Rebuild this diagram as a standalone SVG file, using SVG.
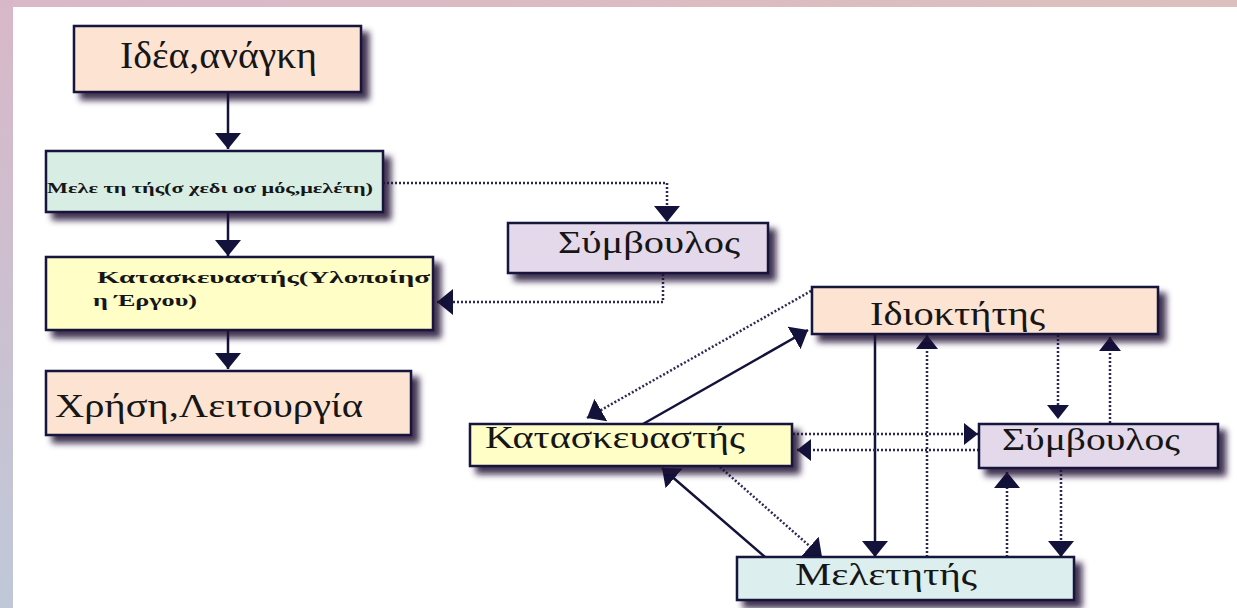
<svg xmlns="http://www.w3.org/2000/svg" width="1237" height="608" viewBox="0 0 1237 608">
<defs>
<linearGradient id="gTop" x1="0" y1="0" x2="1" y2="0"><stop offset="0" stop-color="#d9b8c8"/><stop offset="1" stop-color="#dcc0bd"/></linearGradient>
<linearGradient id="gLeft" x1="0" y1="0" x2="0" y2="1"><stop offset="0" stop-color="#d8b8c8"/><stop offset="1" stop-color="#bfc8d8"/></linearGradient>
<filter id="sh" x="-10%" y="-20%" width="130%" height="160%"><feDropShadow dx="7" dy="7" stdDeviation="3" flood-color="#1c1030" flood-opacity="0.85"/></filter>
<marker id="ah" viewBox="0 0 16 26" refX="16" refY="13" markerWidth="16" markerHeight="26" markerUnits="userSpaceOnUse" orient="auto"><path d="M0,0 L16,13 L0,26 z" fill="#12123a"/></marker>
<marker id="ahs" viewBox="0 0 14 22" refX="14" refY="11" markerWidth="14" markerHeight="22" markerUnits="userSpaceOnUse" orient="auto"><path d="M0,0 L14,11 L0,22 z" fill="#12123a"/></marker>
</defs>
<style>
.box{stroke:#14143c;stroke-width:2.5;filter:url(#sh)}
.peach{fill:#fde3d2}.mint{fill:#d8ede3}.yellow{fill:#fefec6}.lav{fill:#e3d9ea}.cyan{fill:#dcefee}
.t{font-family:"Liberation Serif","Times New Roman",serif;fill:#161616}
.b{font-weight:bold}
.solid{fill:none;stroke:#12123a;stroke-width:2.5}
.dot{fill:none;stroke:#2a2a55;stroke-width:2.5;stroke-dasharray:2 2}
</style>
<rect width="1237" height="608" fill="#ffffff"/>
<rect width="1237" height="7" fill="url(#gTop)"/>
<rect width="13" height="608" fill="url(#gLeft)"/>

<g id="connectors">
<path class="solid" d="M228,92 V149" marker-end="url(#ah)"/>
<path class="solid" d="M228,212 V256" marker-end="url(#ah)"/>
<path class="solid" d="M228,330 V369" marker-end="url(#ah)"/>
<path class="dot" d="M383,183 H667 V222" marker-end="url(#ah)"/>
<path class="dot" d="M663,274 V302 H437" marker-end="url(#ah)"/>
<path class="dot" d="M818,287 L587,418" marker-end="url(#ah)"/>
<path class="solid" d="M643,424 L808,330" marker-end="url(#ah)"/>
<path class="solid" d="M875,334 V557" marker-end="url(#ah)"/>
<path class="dot" d="M927,557 V335" marker-end="url(#ahs)"/>
<path class="dot" d="M1058,335 V419" marker-end="url(#ahs)"/>
<path class="dot" d="M1110,423 V337" marker-end="url(#ahs)"/>
<path class="dot" d="M793,434 H978" marker-end="url(#ahs)"/>
<path class="dot" d="M979,450 H797" marker-end="url(#ahs)"/>
<path class="solid" d="M765,557 L662,468" marker-end="url(#ah)"/>
<path class="dot" d="M720,467 L822,557" marker-end="url(#ah)"/>
<path class="dot" d="M1007,557 V472" marker-end="url(#ah)"/>
<path class="dot" d="M1061,470 V557" marker-end="url(#ah)"/>
</g>

<g id="n-idea">
<rect class="box peach" x="74" y="26" width="287" height="66"/>
<text class="t" x="120" y="68" font-size="38" textLength="197" lengthAdjust="spacingAndGlyphs">Ιδέα,ανάγκη</text>
</g>
<g id="n-meletitis1">
<rect class="box mint" x="46" y="151" width="337" height="61"/>
<text class="t b" x="47" y="193" font-size="15" textLength="326" lengthAdjust="spacingAndGlyphs">Μελε τη τής(σ χεδι οσ μός,μελέτη)</text>
</g>
<g id="n-kataskevastis1">
<rect class="box yellow" x="46" y="257" width="387" height="73"/>
<text class="t b" x="97" y="283" font-size="17" textLength="333" lengthAdjust="spacingAndGlyphs">Κατασκευαστής(Υλοποίησ</text>
<text class="t b" x="93" y="306" font-size="17" textLength="104" lengthAdjust="spacingAndGlyphs">η Έργου)</text>
</g>
<g id="n-xrisi">
<rect class="box peach" x="46" y="371" width="365" height="64"/>
<text class="t" x="55" y="417" font-size="34" textLength="308" lengthAdjust="spacingAndGlyphs">Χρήση,Λειτουργία</text>
</g>
<g id="n-symvoulos1">
<rect class="box lav" x="508" y="223" width="260" height="50"/>
<text class="t" x="558" y="253" font-size="32" textLength="182" lengthAdjust="spacingAndGlyphs">Σύμβουλος</text>
</g>
<g id="n-idioktitis">
<rect class="box peach" x="812" y="287" width="346" height="47"/>
<text class="t" x="870" y="325" font-size="33" textLength="175" lengthAdjust="spacingAndGlyphs">Ιδιοκτήτης</text>
</g>
<g id="n-kataskevastis2">
<rect class="box yellow" x="470" y="424" width="322" height="42"/>
<text class="t" x="485" y="448" font-size="31" textLength="260" lengthAdjust="spacingAndGlyphs">Κατασκευαστής</text>
</g>
<g id="n-symvoulos2">
<rect class="box lav" x="979" y="424" width="239" height="44"/>
<text class="t" x="1002" y="450" font-size="32" textLength="178" lengthAdjust="spacingAndGlyphs">Σύμβουλος</text>
</g>
<g id="n-meletitis2">
<rect class="box cyan" x="737" y="557" width="337" height="43"/>
<text class="t" x="795" y="585" font-size="32" textLength="182" lengthAdjust="spacingAndGlyphs">Μελετητής</text>
</g>
</svg>
